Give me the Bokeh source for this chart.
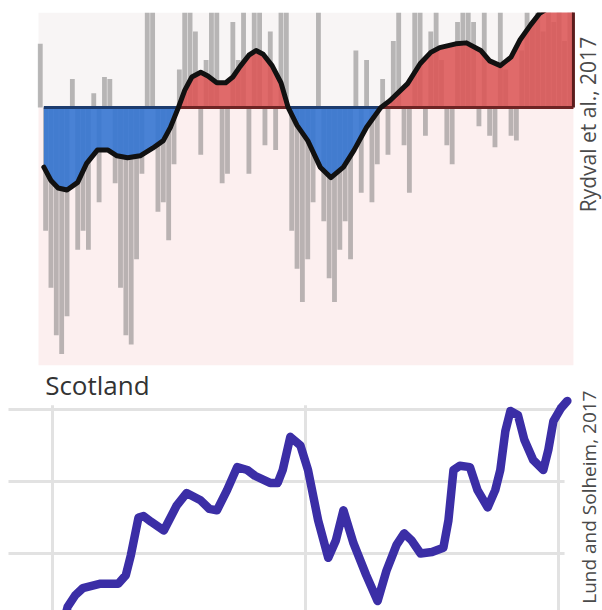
import numpy as np
from bokeh.plotting import figure
from bokeh.layouts import column
from bokeh.models import Label, Range1d, BoxAnnotation
from bokeh.embed import file_html
from bokeh.resources import INLINE

# --- Rydval et al. (2017): summer temperature anomalies (deg C) ---
bar_years = list(range(1701, 2000, 3))
bar_anoms = [
    0.67, -1.3, -1.9, -2.4, -2.6, -2.2, 0.3, -1.5, -1.3, -1.5,
    0.15, -1.0, 0.32, 0.3, -0.8, -1.9, -2.4, -2.5, -1.6, -0.7,
    1.2, 1.2, -1.1, -1.0, -1.4, -0.6, 0.4, 1.2, 1.2, 0.8,
    -0.5, 0.5, 1.2, 1.2, -0.8, -0.7, 0.9, 0.5, 1.2, -0.7,
    1.2, 1.2, -0.4, 0.8, -0.45, 1.2, 1.2, -1.3, -1.7, -2.05,
    -1.6, -1.0, 1.2, -1.2, -1.8, -2.05, -1.5, -1.2, -1.6, 0.6,
    -0.9, 0.5, -1.0, -0.6, 0.3, -0.5, 0.7, 1.2, -0.4, -0.9,
    1.2, 1.2, -0.3, 0.8, 1.2, 0.5, -0.4, -0.6, 0.9, 1.2,
    1.2, 0.9, -0.2, 1.0, -0.3, -0.42, 1.2, 0.4, -0.3, -0.35,
    0.6, 1.2, 0.9, 1.2, 0.8, 1.2, 0.9, 1.2, 0.7, 1.2,
]

# smoothed curve of the same record
smooth_years = [1703, 1707, 1711, 1716, 1722, 1727, 1733, 1739, 1744, 1750,
                1757, 1764, 1770, 1774, 1778.5, 1782, 1786, 1791, 1795, 1800,
                1805, 1809, 1813, 1818, 1822, 1826, 1831, 1836, 1840, 1845,
                1851, 1858, 1864, 1871, 1877, 1884, 1892, 1897, 1907, 1914,
                1920, 1925, 1934, 1940, 1948, 1953, 1959, 1965, 1970, 1976,
                1981, 1987, 1993, 2000]
smooth_anoms = [-0.63, -0.77, -0.85, -0.87, -0.79, -0.59, -0.45, -0.45, -0.51, -0.53,
                -0.51, -0.43, -0.35, -0.21, 0.0, 0.18, 0.32, 0.37, 0.33, 0.26,
                0.26, 0.32, 0.43, 0.55, 0.60, 0.56, 0.44, 0.26, 0.0, -0.19,
                -0.35, -0.63, -0.74, -0.63, -0.45, -0.21, 0.0, 0.07, 0.25, 0.46,
                0.58, 0.63, 0.67, 0.68, 0.60, 0.49, 0.44, 0.53, 0.71, 0.87,
                0.99, 1.06, 1.11, 1.13]
record_start, record_end = 1700, 2000

# --- Scotland: smoothed mean temperature (deg C) ---
scot_years = [1804.5, 1806, 1809, 1812, 1819, 1826, 1829, 1831, 1834, 1836, 1839,
              1844, 1849, 1853, 1858.5, 1862, 1865, 1869, 1873, 1877, 1880,
              1886, 1889, 1891, 1894, 1898, 1901, 1905, 1909, 1912, 1915,
              1919, 1924, 1928.5, 1932, 1936, 1939, 1942, 1945.5, 1950, 1954.5,
              1956.5, 1958.5, 1961, 1965, 1968, 1972, 1975, 1977, 1979, 1981,
              1984, 1986.5, 1990, 1994, 1996, 1998, 2001, 2003.5]
scot_temp = [7.03, 7.13, 7.21, 7.26, 7.29, 7.29, 7.35, 7.49, 7.75, 7.76, 7.72,
             7.66, 7.83, 7.92, 7.87, 7.81, 7.80, 7.94, 8.10, 8.08, 8.04,
             7.99, 7.99, 8.08, 8.31, 8.25, 8.08, 7.73, 7.47, 7.59, 7.80,
             7.57, 7.35, 7.17, 7.38, 7.56, 7.64, 7.59, 7.50, 7.51, 7.54,
             7.73, 8.08, 8.11, 8.10, 7.94, 7.82, 7.94, 8.08, 8.35, 8.49,
             8.46, 8.29, 8.15, 8.08, 8.22, 8.42, 8.51, 8.56]
scot_year_ticks = [1800, 1900, 2000]
scot_temp_ticks = [7.5, 8.0, 8.5]

FONT = "Open Sans"
CREDIT_COLOR = "#4a4a4a"

# ---------------- upper panel ----------------
p1 = figure(width=602, height=368, output_backend="svg", toolbar_location=None,
            x_range=Range1d(1678.7, 2016.3), y_range=Range1d(-2.72, 1.0),
            x_axis_location=None, y_axis_location=None,
            min_border_left=0, min_border_right=0,
            min_border_top=12, min_border_bottom=3)
p1.grid.visible = False
p1.outline_line_color = None
p1.background_fill_color = "white"
p1.border_fill_color = "white"

# panel background: pale pink below the zero line, near-white above it
p1.add_layout(BoxAnnotation(left=record_start, right=record_end, top=0,
                            fill_color="#fcefef", fill_alpha=1.0,
                            line_color=None, level="underlay"))
p1.add_layout(BoxAnnotation(left=record_start, right=record_end, bottom=0,
                            fill_color="#f8f5f5", fill_alpha=1.0,
                            line_color=None, level="underlay"))

# annual bars
p1.vbar(x=bar_years, top=bar_anoms, bottom=0, width=2.7,
        fill_color="#767676", fill_alpha=0.5, line_color=None)

# warm / cold shading under the smoothed curve
sx = np.array(smooth_years, dtype=float)
sy = np.array(smooth_anoms, dtype=float)
p1.varea(x=sx, y1=0, y2=np.minimum(sy, 0), fill_color="#3576d2", fill_alpha=0.9)
p1.varea(x=sx, y1=0, y2=np.maximum(sy, 0), fill_color="#dc5656", fill_alpha=0.88)

# dark edges of the shaded areas along the zero line
neg = sy <= 0
pos = sy >= 0
p1.line(x=np.where(neg, sx, np.nan), y=np.where(neg, 0.0, np.nan),
        line_color="#1d3c6e", line_width=3)
p1.line(x=np.where(pos, sx, np.nan), y=np.where(pos, 0.0, np.nan),
        line_color="#6e2424", line_width=3)
p1.segment(x0=[sx[-1]], y0=[0], x1=[sx[-1]], y1=[sy[-1]],
           line_color="#5a1c1c", line_width=3)

p1.line(smooth_years, smooth_anoms, line_color="#111111", line_width=5,
        line_join="round", line_cap="round")

p1.add_layout(Label(x=2008.4, y=-1.105, text="Rydval et al., 2017",
                    angle=90, angle_units="deg", text_align="left",
                    text_baseline="middle", text_font=FONT,
                    text_font_size="21px", text_color=CREDIT_COLOR))

# ---------------- lower panel ----------------
p2 = figure(width=602, height=242, output_backend="svg", toolbar_location=None,
            x_range=Range1d(1779.45, 2017.4), y_range=Range1d(7.104, 8.785),
            x_axis_location=None, y_axis_location=None,
            min_border_left=0, min_border_right=0,
            min_border_top=0, min_border_bottom=0)
p2.grid.visible = False
p2.outline_line_color = None
p2.background_fill_color = "white"

# grid lines drawn at the tick values, kept below the title strip
grid_top, grid_left, grid_right = 8.53, 1782.6, 2002.4
p2.segment(x0=scot_year_ticks, y0=[7.0] * len(scot_year_ticks),
           x1=scot_year_ticks, y1=[grid_top] * len(scot_year_ticks),
           line_color="#e2e2e2", line_width=3)
p2.segment(x0=[grid_left] * len(scot_temp_ticks), y0=scot_temp_ticks,
           x1=[grid_right] * len(scot_temp_ticks), y1=scot_temp_ticks,
           line_color="#e2e2e2", line_width=3)

p2.line(scot_years, scot_temp, line_color="#3b2ea6", line_width=8.5,
        line_join="round", line_cap="round")

p2.add_layout(Label(x=1797.1, y=8.67, text="Scotland",
                    text_align="left", text_baseline="alphabetic",
                    text_font=FONT, text_font_size="26px",
                    text_color="#333333"))
p2.add_layout(Label(x=2011.9, y=8.632, text="Lund and Solheim, 2017",
                    angle=90, angle_units="deg", text_align="right",
                    text_baseline="middle", text_font=FONT,
                    text_font_size="19px", text_color=CREDIT_COLOR))

layout = column(p1, p2)
open("out.html", "w").write(file_html(layout, INLINE))
